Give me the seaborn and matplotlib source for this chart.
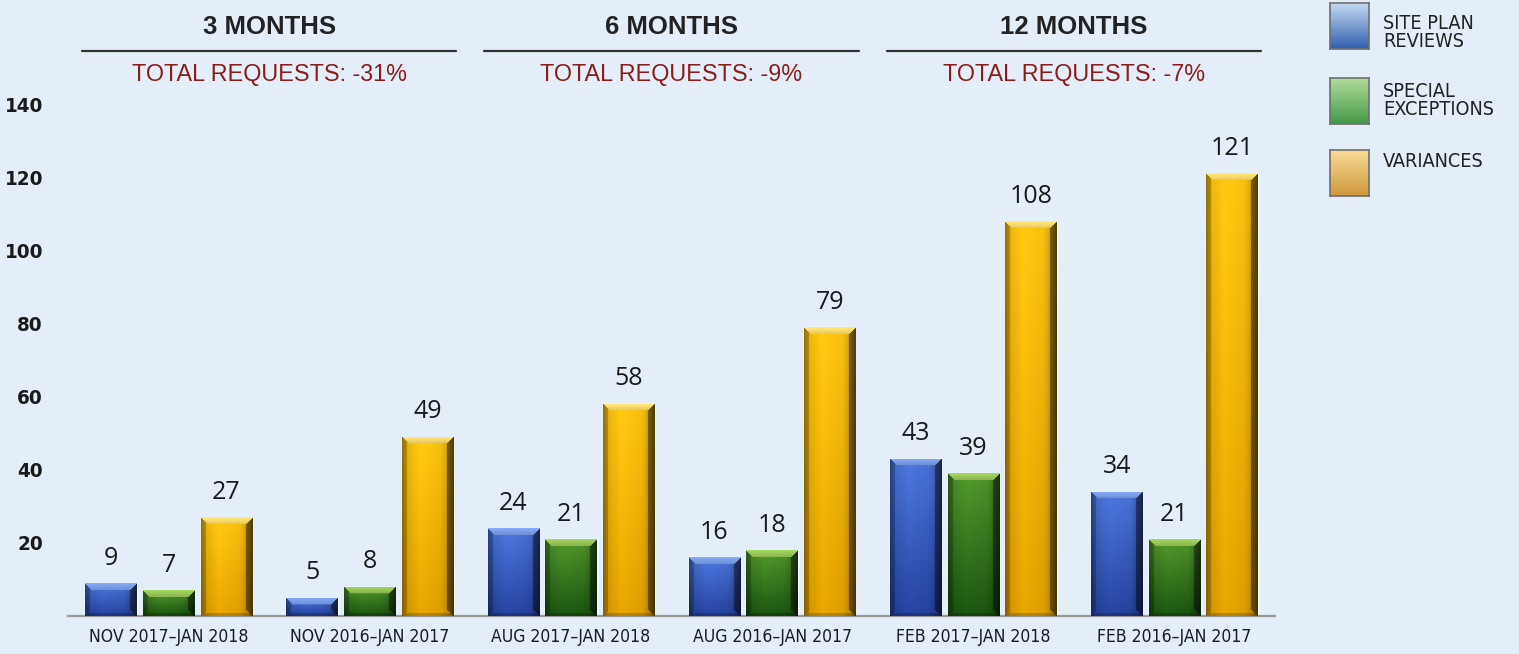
import matplotlib
matplotlib.use('Agg')
import matplotlib.pyplot as plt
from matplotlib import font_manager
import seaborn as sns
import pandas as pd
import numpy as np

# data
periods = ["NOV 2017–JAN 2018", "NOV 2016–JAN 2017",
           "AUG 2017–JAN 2018", "AUG 2016–JAN 2017",
           "FEB 2017–JAN 2018", "FEB 2016–JAN 2017"]
types = ["SITE PLAN\nREVIEWS", "SPECIAL\nEXCEPTIONS", "VARIANCES"]
site_plan = [9, 5, 24, 16, 43, 34]
special_exc = [7, 8, 21, 18, 39, 21]
variances = [27, 49, 58, 79, 108, 121]
windows = ["3 MONTHS", "6 MONTHS", "12 MONTHS"]
totals = ["TOTAL REQUESTS: -31%", "TOTAL REQUESTS: -9%", "TOTAL REQUESTS: -7%"]
yticks = [20, 40, 60, 80, 100, 120, 140]

df = pd.DataFrame({
    "period": periods * 3,
    "type": [types[0]] * 6 + [types[1]] * 6 + [types[2]] * 6,
    "value": site_plan + special_exc + variances,
})

BG = "#e3eef8"

# pick a narrow font if one is around, otherwise plain Liberation Sans
names = {f.name for f in font_manager.fontManager.ttflist}
cond = [f for f in font_manager.fontManager.ttflist
        if f.name == "DejaVu Sans" and str(f.stretch) in ("condensed", "semi-condensed", "600", "700")]
if "Liberation Sans Narrow" in names:
    NARROW = dict(family=["Liberation Sans Narrow", "DejaVu Sans"], fontstretch="normal")
    nscale = 1.0
elif cond:
    NARROW = dict(family=["DejaVu Sans"], fontstretch="condensed")
    nscale = 0.95
else:
    NARROW = dict(family=["Liberation Sans", "DejaVu Sans"], fontstretch="normal")
    nscale = 0.86

# face top / face bottom / bevel colour per series
shades = {
    types[0]: ("#4a73d6", "#24409a", "#7ea2ee"),
    types[1]: ("#4f932a", "#1a5210", "#9ccc5a"),
    types[2]: ("#f7c010", "#dd9e00", "#ffe070"),
}
legend_grad = {
    types[0]: ("#c4d9f2", "#3160ad"),
    types[1]: ("#b0dc98", "#46994a"),
    types[2]: ("#f9dc98", "#cf973c"),
}

sns.set_theme(style="white")
fig = plt.figure(figsize=(15.19, 6.54), dpi=100)
fig.patch.set_facecolor(BG)
ax = fig.add_axes([68 / 1519, 1 - 616 / 654, 1207 / 1519, 512 / 654])
ax.set_facecolor(BG)

palette = {t: shades[t][0] for t in types}
sns.barplot(data=df, x="period", y="value", hue="type", palette=palette,
            width=0.86, gap=0.11, legend=False, ax=ax, saturation=1)

ax.set_xlim(-0.5, 5.5)
ax.set_ylim(0, 140)
PX_X = 1207 / 6.0
PX_Y = 512 / 140.0


def rgb(c):
    return np.array(matplotlib.colors.to_rgb(c))


def shade_bar(patch, top_c, bot_c, bev_c):
    x0, w, h = patch.get_x(), patch.get_width(), patch.get_height()
    nx = max(int(round(w * PX_X)), 6)
    ny = max(int(round(h * PX_Y)), 6)
    t = np.linspace(0, 1, ny)[:, None, None]
    img = (1 - t) * rgb(top_c) + t * rgb(bot_c)
    img = np.repeat(img, nx, axis=1)
    u = np.linspace(0, 1, nx)
    hs = np.interp(u, [0, 0.1, 0.35, 0.75, 0.9, 1], [0.75, 0.95, 1.06, 1.0, 0.85, 0.6])
    img = img * hs[None, :, None]
    b = min(7, ny // 2, nx // 2)
    r = np.arange(ny)[:, None]
    c = np.arange(nx)[None, :]
    top = (r < b) & (c >= r) & (c < nx - r)
    left = (c < b - 2) & (r >= c) & (r < ny - c) & ~top
    right = (c >= nx - b) & (r >= nx - 1 - c) & (r < ny - (nx - 1 - c)) & ~top
    bottom = (r >= ny - 3) & ~left & ~right
    img[left] *= 0.8
    img[right] *= 0.55
    img[bottom] *= 0.8
    bev = np.linspace(1.05, 0.9, b)[:, None, None] * rgb(bev_c)
    bev = np.repeat(bev, nx, axis=1)
    img[:b][top[:b]] = bev[top[:b]]
    img = np.clip(img, 0, 1)
    im = ax.imshow(img, extent=(x0, x0 + w, 0, h), origin="upper",
                   aspect="auto", interpolation="bilinear", zorder=3)
    im.set_clip_path(patch)


for cont, t in zip(ax.containers, types):
    for p in cont.patches:
        shade_bar(p, *shades[t])
    ax.bar_label(cont, padding=9, fontsize=18, family=["Open Sans", "DejaVu Sans"],
                 color="#1a1a1a", zorder=4)

ax.set_xlim(-0.5, 5.5)
ax.set_ylim(0, 140)

# axes styling
for s in ["top", "right", "left"]:
    ax.spines[s].set_visible(False)
ax.spines["bottom"].set_color("#9a9a9a")
ax.spines["bottom"].set_linewidth(1.6)
ax.set_xlabel("")
ax.set_ylabel("")
ax.set_yticks(yticks)
ax.tick_params(axis="y", length=0, pad=18)
ax.tick_params(axis="x", length=0, pad=9)
for lab in ax.get_yticklabels():
    lab.set_fontfamily(NARROW["family"])
    lab.set_fontstretch(NARROW["fontstretch"])
    lab.set_fontweight("bold")
    lab.set_fontsize(15.5 * nscale)
    lab.set_color("#1a1a1a")
for lab in ax.get_xticklabels():
    lab.set_fontfamily(NARROW["family"])
    lab.set_fontstretch(NARROW["fontstretch"])
    lab.set_fontsize(13.3 * nscale)
    lab.set_color("#1a1a2a")
ax.grid(False)

# window headers
trans = ax.get_xaxis_transform()
for i, (wname, tot) in enumerate(zip(windows, totals)):
    a, b = 2 * i, 2 * i + 1
    ax.plot([a - 0.43, b + 0.43], [1.1035, 1.1035], transform=trans,
            color="#333333", lw=1.6, clip_on=False)
    ax.text((a + b) / 2, 1.150, wname, transform=trans, ha="center", va="center",
            fontsize=18.5, fontweight="bold", family=["Liberation Sans", "DejaVu Sans"],
            color="#222222")
    ax.text((a + b) / 2, 1.057, tot, transform=trans, ha="center", va="center",
            fontsize=16.8, family=["Liberation Sans", "DejaVu Sans"], color="#8b1c1c")

# legend
leg_sq = [(3, 49), (78, 124), (150, 196)]
leg_txt = [14, 82, 152]
for t, (y0, y1), ty in zip(types, leg_sq, leg_txt):
    lax = fig.add_axes([1330 / 1519, 1 - y1 / 654, 39 / 1519, (y1 - y0) / 654])
    top_c, bot_c = legend_grad[t]
    g = np.linspace(0, 1, 64)[:, None, None]
    lax.imshow((1 - g) * rgb(top_c) + g * rgb(bot_c), aspect="auto")
    lax.set_xticks([])
    lax.set_yticks([])
    for s in lax.spines.values():
        s.set_color("#6f6f6f")
        s.set_linewidth(1.2)
    fig.text(1383 / 1519, 1 - ty / 654, t, ha="left", va="top",
             fontsize=15 * max(nscale, 0.92), family=NARROW["family"],
             fontstretch=NARROW["fontstretch"], color="#222222", linespacing=0.95)

fig.savefig("out.png", dpi=100, facecolor=BG)
plt.close(fig)
